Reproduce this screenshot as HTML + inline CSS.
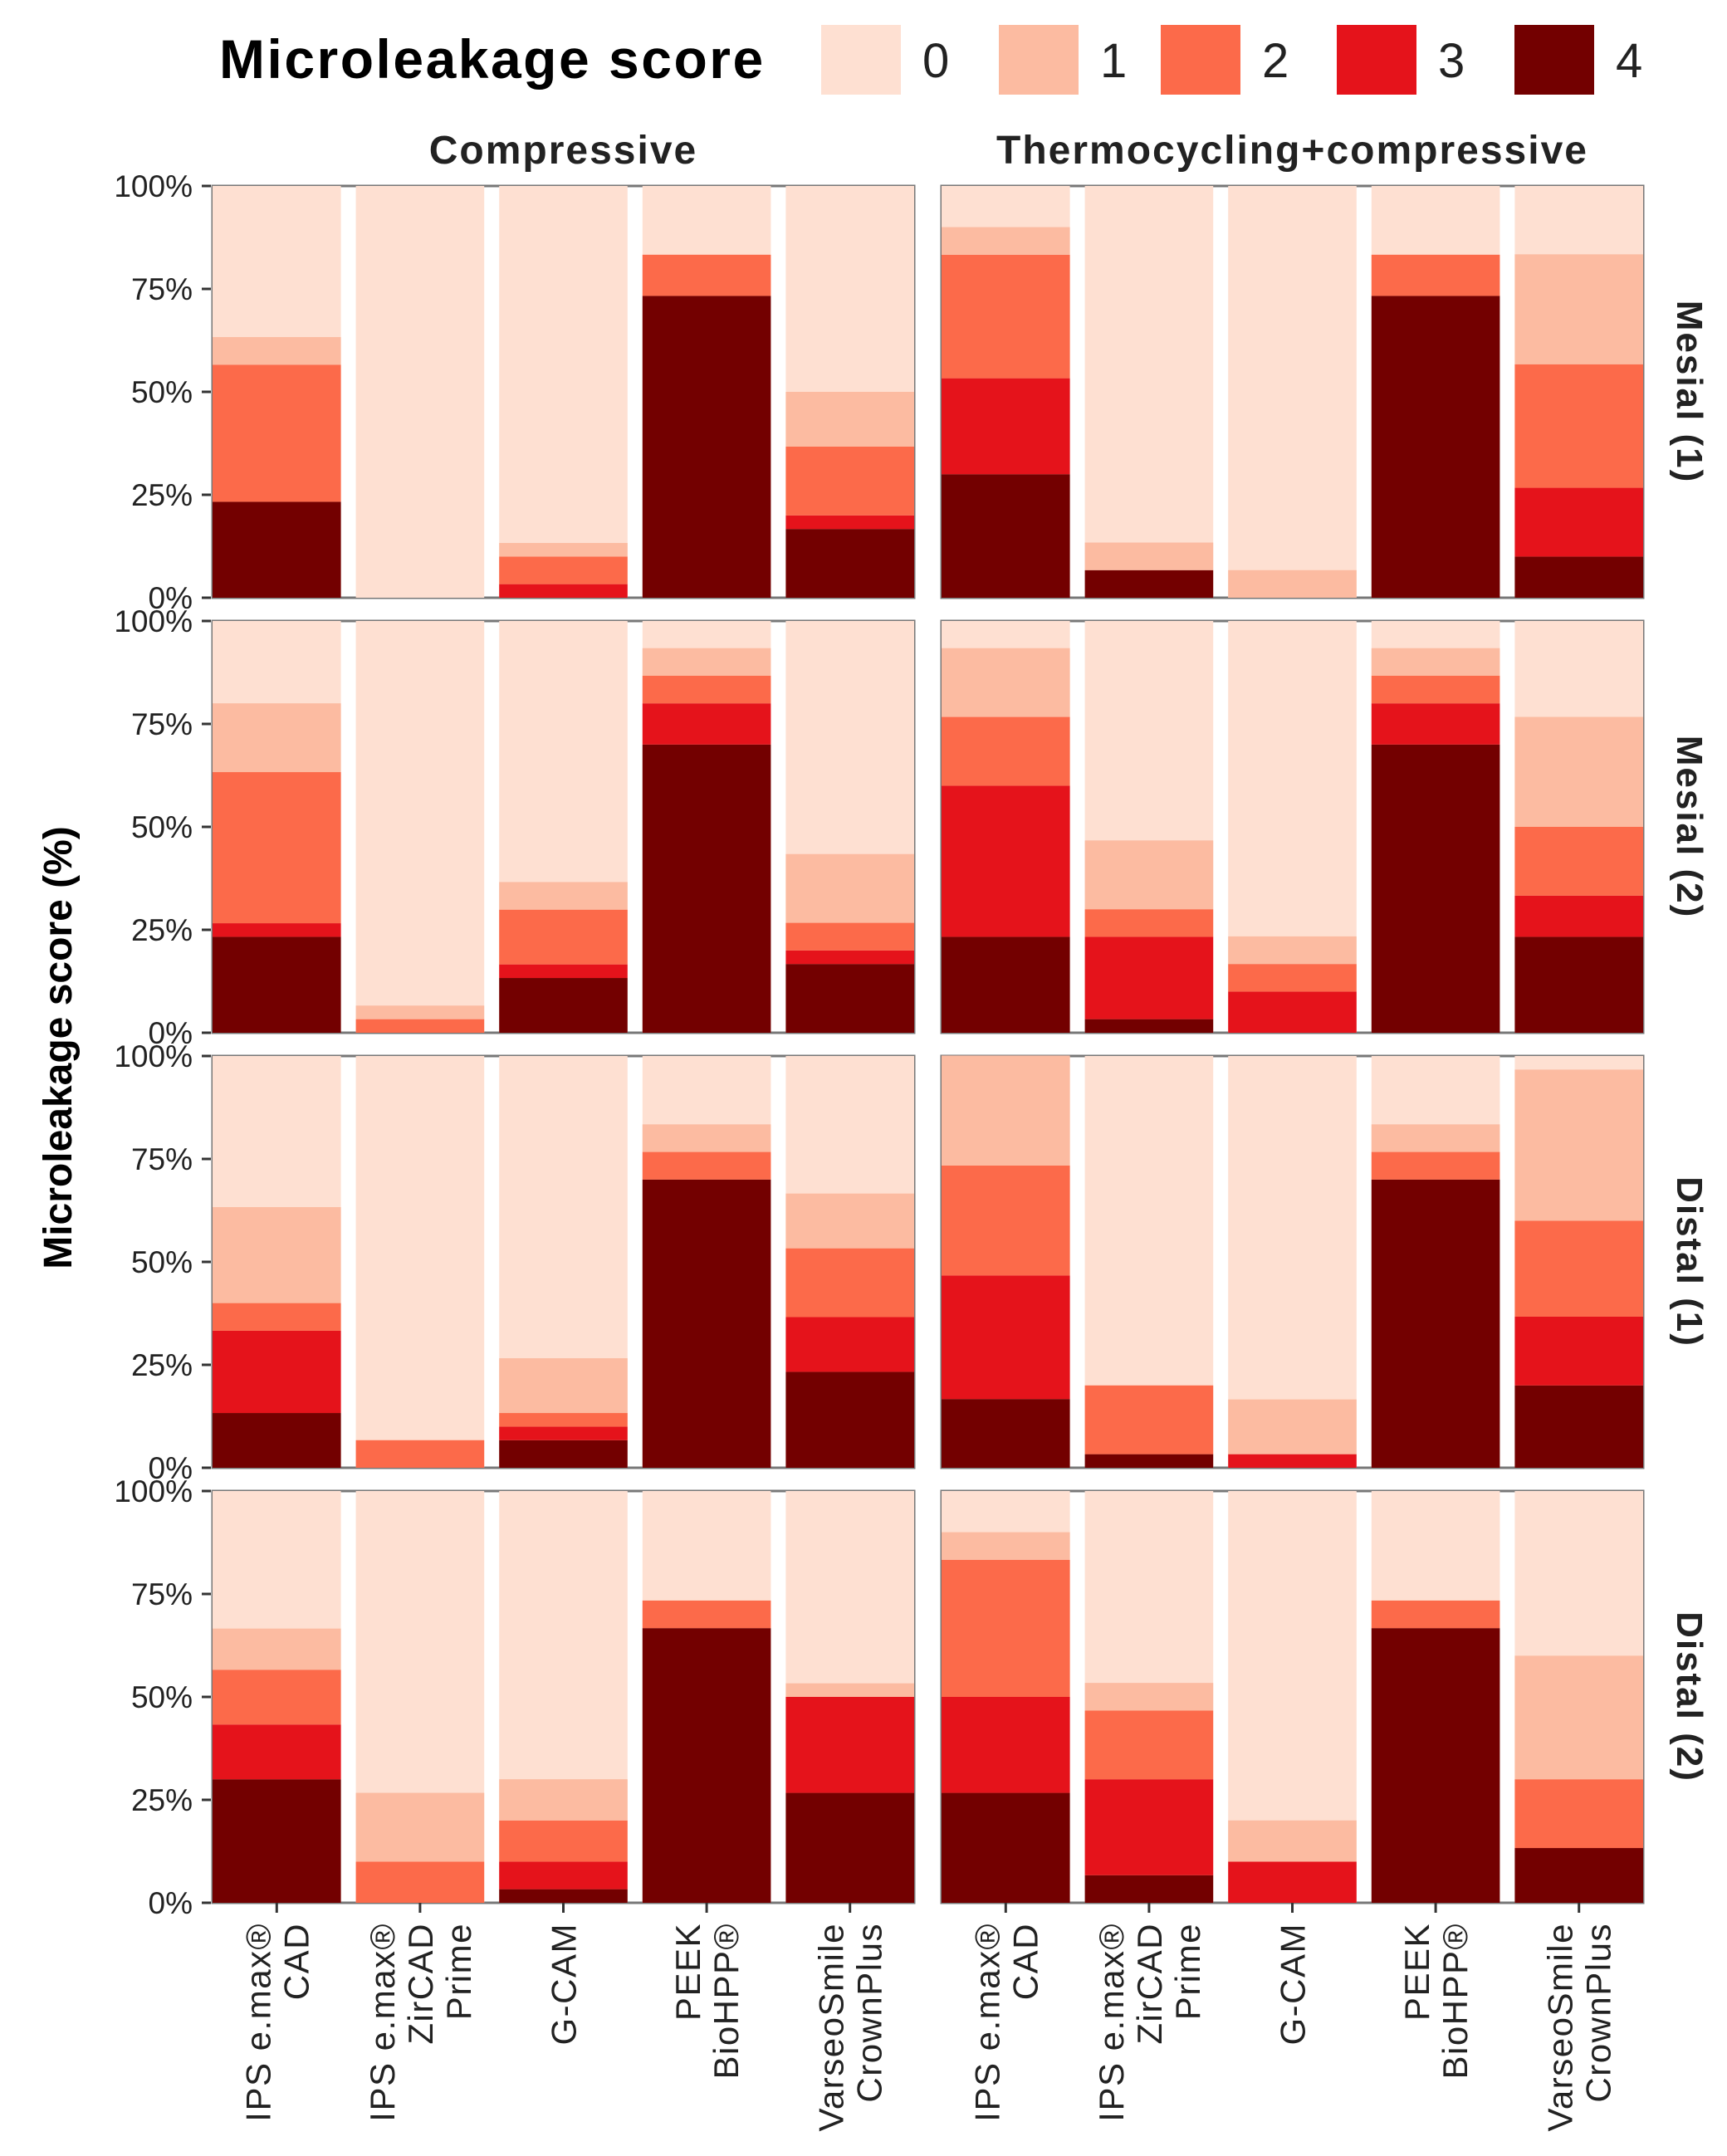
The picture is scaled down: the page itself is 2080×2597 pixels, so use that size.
<!DOCTYPE html>
<html><head><meta charset="utf-8"><style>
body{margin:0;background:#fff}
svg{display:block;font-family:"Liberation Sans",sans-serif}
</style></head><body>
<svg id="chart" width="2080" height="2597" viewBox="0 0 2080 2597"></svg>
<script>
const colors = ["#fee0d2","#fcbba1","#fc6a4a","#e5131b","#730000"];
const scoreLabels = ["0","1","2","3","4"];
const facetCols = ["Compressive","Thermocycling+compressive"];
const facetRows = ["Mesial (1)","Mesial (2)","Distal (1)","Distal (2)"];
const materials = [["IPS e.max®","CAD"],["IPS e.max®","ZirCAD","Prime"],["G-CAM"],["PEEK","BioHPP®"],["VarseoSmile","CrownPlus"]];
const yTicks = [0,25,50,75,100];
const yTickLabels = ["0%","25%","50%","75%","100%"];
// values per bar: [score4, score3, score2, score1] in %, score0 fills the rest
const mesial1Comp = [[23.3,0,33.3,6.7],[0,0,0,0],[0,3.3,6.7,3.3],[73.3,0,10,0],[16.7,3.3,16.7,13.3]];
const mesial1Thermo = [[30,23.3,30,6.7],[6.7,0,0,6.7],[0,0,0,6.7],[73.3,0,10,0],[10,16.7,30,26.7]];
const mesial2Comp = [[23.3,3.3,36.7,16.7],[0,0,3.3,3.3],[13.3,3.3,13.3,6.7],[70,10,6.7,6.7],[16.7,3.3,6.7,16.7]];
const mesial2Thermo = [[23.3,36.7,16.7,16.7],[3.3,20,6.7,16.7],[0,10,6.7,6.7],[70,10,6.7,6.7],[23.3,10,16.7,26.7]];
const distal1Comp = [[13.3,20,6.7,23.3],[0,0,6.7,0],[6.7,3.3,3.3,13.3],[70,0,6.7,6.7],[23.3,13.3,16.7,13.3]];
const distal1Thermo = [[16.7,30,26.7,26.7],[3.3,0,16.7,0],[0,3.3,0,13.3],[70,0,6.7,6.7],[20,16.7,23.3,36.7]];
const distal2Comp = [[30,13.3,13.3,10],[0,0,10,16.7],[3.3,6.7,10,10],[66.7,0,6.7,0],[26.7,23.3,0,3.3]];
const distal2Thermo = [[26.7,23.3,33.3,6.7],[6.7,23.3,16.7,6.7],[0,10,0,10],[66.7,0,6.7,0],[13.3,0,16.7,30]];
const panelData = [[mesial1Comp,mesial1Thermo],[mesial2Comp,mesial2Thermo],[distal1Comp,distal1Thermo],[distal2Comp,distal2Thermo]];

const NS="http://www.w3.org/2000/svg";
const svg=document.getElementById('chart');
function mk(tag,attrs,parent,text){const e=document.createElementNS(NS,tag);for(const k in attrs)e.setAttribute(k,attrs[k]);if(text!==undefined)e.textContent=text;(parent||svg).appendChild(e);return e;}

const colX=[256,1134], panelW=845, rowY=[224,748,1272,1796], panelH=496;
const gap=18, band=(panelW+gap)/5, barW=band-gap;
function xBar(i,c){return colX[c]+i*band;}
function yVal(v,r){return rowY[r]+panelH-v/100*panelH;}

// legend
let t=mk('text',{x:264,y:94,'font-size':66,'font-weight':'bold','letter-spacing':2.5,fill:'#000'},svg,'Microleakage score');

const keyX=[989,1203,1398,1610,1824];
scoreLabels.forEach((s,i)=>{
  const r=mk('rect',{x:keyX[i],y:30,width:96,height:84,fill:colors[i]});
  
  
  const l=mk('text',{x:keyX[i]+122,y:93,'font-size':58,fill:'#222'},svg,s);
  
  
});

// strip titles
facetCols.forEach((c,ci)=>{
  const e=mk('text',{x:colX[ci]+panelW/2,y:197,'text-anchor':'middle','font-size':48,'font-weight':'bold','letter-spacing':2,fill:'#222'},svg,c);
  
  
});
facetRows.forEach((rname,ri)=>{
  const cy=rowY[ri]+panelH/2;
  const e=mk('text',{x:2020,y:cy,'text-anchor':'middle','font-size':44,'font-weight':'bold','letter-spacing':2,fill:'#222',transform:`rotate(90 2020 ${cy})`},svg,rname);
  
  
});

// y title
const yt=mk('text',{x:86,y:1262,'text-anchor':'middle','font-size':48,'font-weight':'bold',fill:'#000',transform:'rotate(-90 86 1262)'},svg,'Microleakage score (%)');



panelData.forEach((row,ri)=>{
  yTicks.forEach((v,ti)=>{
    const y=yVal(v,ri);
    mk('line',{x1:243,x2:254,y1:y,y2:y,stroke:'#333','stroke-width':3});
    const l=mk('text',{x:232,y:y+13,'text-anchor':'end','font-size':37,fill:'#222'},svg,yTickLabels[ti]);
    
    
  });
  row.forEach((bars,ci)=>{
    const g=mk('g',{});
    
    
    mk('rect',{x:colX[ci],y:rowY[ri],width:panelW,height:panelH,fill:'#fff',stroke:'#777','stroke-width':3},g);
    bars.forEach((vals,bi)=>{
      const x=xBar(bi,ci);
      const b0=mk('rect',{x:x,y:yVal(100,ri),width:barW,height:panelH,fill:colors[0]},g);
      
      
      let cum=0;
      vals.forEach((v,k)=>{
        const score=4-k;
        if(v>0){
          const s=mk('rect',{x:x,y:yVal(cum+v,ri),width:barW,height:yVal(cum,ri)-yVal(cum+v,ri),fill:colors[score]},g);
          
          
        }
        cum+=v;
      });
    });
  });
});

// x tick labels
[0,1].forEach(ci=>{
  materials.forEach((lines,bi)=>{
    const cx=xBar(bi,ci)+barW/2;
    mk('line',{x1:cx,x2:cx,y1:2292,y2:2304,stroke:'#333','stroke-width':3});
    const n=lines.length;
    lines.forEach((ln,li)=>{
      const lx=cx+(li-(n-1)/2)*46+15;
      const e=mk('text',{x:lx,y:2316,'text-anchor':'end','font-size':42,'letter-spacing':1.5,fill:'#222',transform:`rotate(-90 ${lx} 2316)`},svg,ln);
      
      
    });
  });
});
</script>
</body></html>
